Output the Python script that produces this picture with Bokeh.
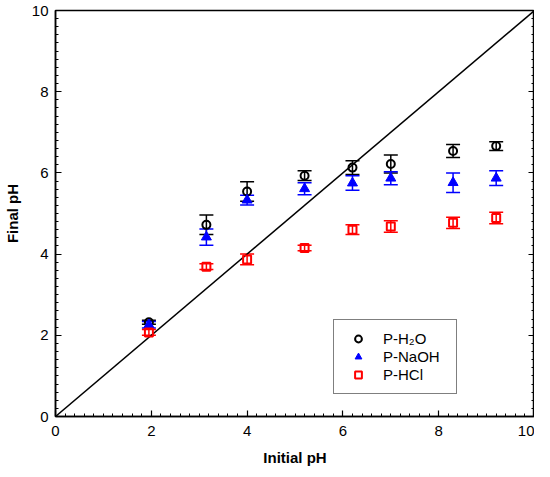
from bokeh.plotting import figure
from bokeh.models import (ColumnDataSource, Whisker, TeeHead, LinearAxis, Range1d,
                          SingleIntervalTicker, Legend, LegendItem, CustomJSTickFormatter)
from bokeh.embed import file_html
from bokeh.resources import INLINE

# ---- data ----
initial_ph = [1.95, 3.15, 4.0, 5.2, 6.2, 7.0, 8.3, 9.2]
h2o = [2.32, 4.72, 5.54, 5.93, 6.13, 6.22, 6.54, 6.66]
h2o_err = [0.05, 0.24, 0.24, 0.12, 0.17, 0.22, 0.16, 0.11]
naoh = [2.26, 4.42, 5.33, 5.61, 5.75, 5.87, 5.76, 5.87]
naoh_err = [0.08, 0.20, 0.12, 0.15, 0.18, 0.16, 0.24, 0.18]
hcl = [2.07, 3.69, 3.87, 4.15, 4.60, 4.68, 4.77, 4.89]
hcl_err = [0.07, 0.07, 0.13, 0.07, 0.12, 0.14, 0.14, 0.14]
diag_x = [0, 10]
diag_y = [0, 10]
labels = ["P-H\u2082O", "P-NaOH", "P-HCl"]

FONT = "Liberation Sans"

p = figure(width=534, height=468, output_backend="svg", toolbar_location=None,
           x_range=Range1d(0, 10), y_range=Range1d(0, 10),
           min_border_left=55, min_border_right=0, min_border_top=10, min_border_bottom=51)
p.background_fill_color = "white"
p.border_fill_color = "white"
p.outline_line_color = "black"
p.outline_line_width = 1.5
p.grid.visible = False

for ax in (p.xaxis[0], p.yaxis[0]):
    ax.ticker = SingleIntervalTicker(interval=2, num_minor_ticks=10)
    ax.major_tick_in = 6
    ax.major_tick_out = 0
    ax.minor_tick_in = 3
    ax.minor_tick_out = 0
    ax.axis_line_width = 1.5
    ax.major_tick_line_width = 1.2
    ax.minor_tick_line_width = 1
    ax.major_label_text_font = FONT
    ax.major_label_text_font_size = "15px"
    ax.major_label_text_color = "black"
    ax.axis_label_text_font = FONT
    ax.axis_label_text_font_size = "15px"
    ax.axis_label_text_font_style = "bold"
    ax.axis_label_text_color = "black"

p.xaxis.axis_label = "Initial pH"
p.yaxis.axis_label = "Final pH"
p.xaxis.major_label_standoff = 9
p.yaxis.major_label_standoff = 7
p.xaxis.axis_label_standoff = 10
p.yaxis.axis_label_standoff = 8

right = LinearAxis(ticker=SingleIntervalTicker(interval=2, num_minor_ticks=10),
                   formatter=CustomJSTickFormatter(code="return ''"))
right.major_tick_in = 6
right.major_tick_out = 0
right.minor_tick_in = 3
right.minor_tick_out = 0
right.axis_line_width = 1.5
right.major_tick_line_width = 1.2
right.major_label_standoff = 0
right.major_label_text_font_size = "0px"
p.add_layout(right, "right")

# diagonal
p.line(diag_x, diag_y, line_color="black", line_width=1.5)

series = [
    (h2o, h2o_err, "black"),
    (naoh, naoh_err, "#0000ff"),
    (hcl, hcl_err, "#ff0000"),
]
sources = []
for vals, errs, col in series:
    src = ColumnDataSource(dict(x=initial_ph, y=vals,
                                up=[v + e for v, e in zip(vals, errs)],
                                lo=[v - e for v, e in zip(vals, errs)]))
    w = Whisker(base="x", upper="up", lower="lo", source=src,
                line_color=col, line_width=1.5,
                upper_head=TeeHead(size=14, line_color=col, line_width=1.5),
                lower_head=TeeHead(size=14, line_color=col, line_width=1.5))
    p.add_layout(w)
    sources.append(src)

r1 = p.scatter("x", "y", source=sources[0], marker="circle", size=8,
               fill_color=None, line_color="black", line_width=2)
r2 = p.scatter("x", "y", source=sources[1], marker="triangle", size=10,
               fill_color="#0000ff", line_color="#0000ff", line_width=1)
r3 = p.scatter("x", "y", source=sources[2], marker="square", size=8,
               fill_color=None, line_color="#ff0000", line_width=2)

legend = Legend(items=[LegendItem(label=labels[0], renderers=[r1]),
                       LegendItem(label=labels[1], renderers=[r2]),
                       LegendItem(label=labels[2], renderers=[r3])],
                location=(278, 22))
legend.label_text_font = FONT
legend.label_text_font_size = "15px"
legend.label_text_color = "black"
legend.border_line_color = "black"
legend.border_line_width = 1.2
legend.background_fill_alpha = 1
legend.padding = 10
legend.spacing = 1
legend.glyph_width = 28
legend.glyph_height = 17
legend.label_height = 17
legend.label_standoff = 11
legend.label_width = 63
legend.margin = 0
p.add_layout(legend, "center")

open("out.html", "w").write(file_html(p, INLINE))
